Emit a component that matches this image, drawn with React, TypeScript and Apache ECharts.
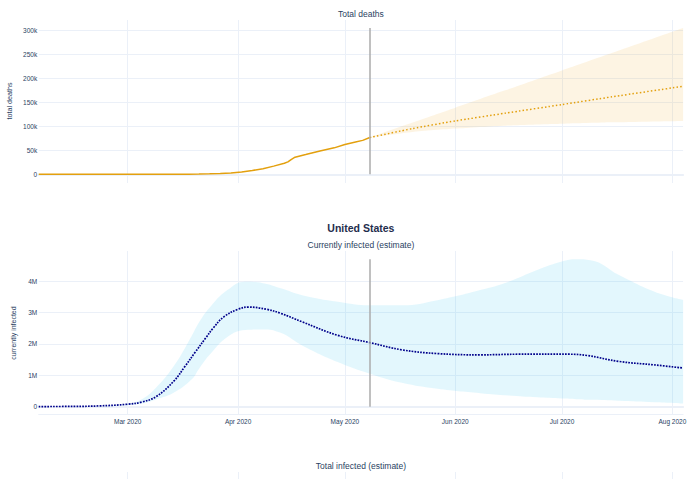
import React, { useEffect, useRef } from 'react';
import * as echarts from 'echarts';

// ---------- data ----------
const X_START = '2020-02-05';
const X_END = '2020-08-04';
const X_TICK_DATES = ['2020-03-01', '2020-04-01', '2020-05-01', '2020-06-01', '2020-07-01', '2020-08-01'];
const X_TICK_LABELS = ['Mar 2020', 'Apr 2020', 'May 2020', 'Jun 2020', 'Jul 2020', 'Aug 2020'];
const CUTOFF_DATE = '2020-05-08';

const DEATH_DATES = ['2020-02-05', '2020-02-29', '2020-03-10', '2020-03-15', '2020-03-18', '2020-03-21', '2020-03-24', '2020-03-27', '2020-03-30', '2020-04-02', '2020-04-05', '2020-04-08', '2020-04-11', '2020-04-14', '2020-04-15', '2020-04-16', '2020-04-17', '2020-04-20', '2020-04-22', '2020-04-24', '2020-04-28', '2020-05-01', '2020-05-04', '2020-05-06', '2020-05-08'];
const DEATH_VALUES = [0, 1, 30, 70, 150, 400, 900, 1700, 2600, 5000, 8000, 11500, 17000, 23000, 25800, 31000, 35500, 41000, 45000, 48600, 55000, 61800, 67000, 70500, 76500];

const PROJ_DATES = ['2020-05-08', '2020-05-20', '2020-06-01', '2020-06-15', '2020-07-01', '2020-07-15', '2020-08-04'];
const PROJ_MEAN = [76500, 95000, 111000, 127000, 145000, 161000, 183000];
const PROJ_LOW = [76500, 88000, 95000, 101000, 105000, 108000, 111000];
const PROJ_HIGH = [76500, 107500, 138500, 174500, 216000, 252000, 304000];

const INF_DATES = ['2020-02-05', '2020-02-15', '2020-02-22', '2020-03-01', '2020-03-05', '2020-03-09', '2020-03-14', '2020-03-17', '2020-03-20', '2020-03-23', '2020-03-25', '2020-03-28', '2020-04-01', '2020-04-04', '2020-04-09', '2020-04-13', '2020-04-19', '2020-04-29', '2020-05-08', '2020-05-17', '2020-05-27', '2020-06-08', '2020-06-19', '2020-07-03', '2020-07-08', '2020-07-17', '2020-07-27', '2020-08-04'];
const INF_VALUES = [5000, 10000, 25000, 80000, 150000, 320000, 820000, 1270000, 1740000, 2200000, 2500000, 2860000, 3100000, 3170000, 3100000, 2970000, 2700000, 2270000, 2040000, 1810000, 1690000, 1650000, 1670000, 1670000, 1630000, 1440000, 1330000, 1230000];

const INF_BAND_DATES = ['2020-02-05', '2020-02-22', '2020-03-01', '2020-03-05', '2020-03-09', '2020-03-14', '2020-03-19', '2020-03-21', '2020-03-24', '2020-03-29', '2020-04-03', '2020-04-08', '2020-04-13', '2020-04-19', '2020-04-29', '2020-05-08', '2020-05-17', '2020-05-27', '2020-06-08', '2020-06-16', '2020-06-24', '2020-07-01', '2020-07-05', '2020-07-09', '2020-07-17', '2020-07-27', '2020-08-04'];
const INF_LOW = [5000, 15000, 50000, 100000, 230000, 450000, 870000, 1200000, 1650000, 2220000, 2440000, 2460000, 2350000, 1950000, 1420000, 1050000, 760000, 570000, 430000, 360000, 300000, 260000, 240000, 220000, 190000, 140000, 100000];
const INF_HIGH = [5000, 30000, 100000, 240000, 610000, 1300000, 2260000, 2680000, 3150000, 3710000, 3980000, 3930000, 3770000, 3550000, 3340000, 3230000, 3230000, 3390000, 3710000, 3980000, 4350000, 4620000, 4690000, 4660000, 4190000, 3660000, 3400000];

const DEATH_TICK_MAX = 300000;
const DEATH_TICK_STEP = 50000;
const INF_TICK_MAX = 4000000;
const INF_TICK_STEP = 1000000;

// ---------- layout ----------
const W = 690;
const H = 479;
const PLOT_LEFT = 38.7;
const PLOT_RIGHT = 6.9;
const TXT = '#2a3f5f';
const GRID_C = '#ebf0f8';
const FONT = "'Liberation Sans', Arial, sans-serif";

const T_TOP = 20, T_BOT = 183, T_ZERO = 174.3, T_MAXPX = 30;
const M_TOP = 251, M_BOT = 414, M_ZERO = 406.7, M_MAXPX = 281;

const ts = (s: string) => {
  const [y, m, d] = s.split('-').map(Number);
  return Date.UTC(y, m - 1, d);
};

function rangeFor(top: number, bot: number, zero: number, maxPx: number, tickMax: number) {
  const ppu = (zero - maxPx) / tickMax;
  return { min: -(bot - zero) / ppu, max: (zero - top) / ppu };
}

export default function App() {
  const ref = useRef<HTMLDivElement>(null);
  useEffect(() => {
    if (!ref.current) return;
    const chart = echarts.init(ref.current, undefined, { renderer: 'svg' });
    const xMin = ts(X_START);
    const xMax = ts(X_END);
    const tickTs = X_TICK_DATES.map(ts);
    const monthLabel = (v: number) => {
      const i = tickTs.indexOf(v);
      return i >= 0 ? X_TICK_LABELS[i] : '';
    };
    const topR = rangeFor(T_TOP, T_BOT, T_ZERO, T_MAXPX, DEATH_TICK_MAX);
    const midR = rangeFor(M_TOP, M_BOT, M_ZERO, M_MAXPX, INF_TICK_MAX);

    const decoX = (gridIndex: number, extra: any) => ({
      type: 'value',
      gridIndex,
      min: xMin,
      max: xMax,
      axisLine: { show: false },
      axisTick: { show: false, customValues: tickTs },
      axisLabel: { show: false, customValues: tickTs },
      splitLine: { show: false },
      ...extra,
    });
    const dataX = (gridIndex: number) => ({
      type: 'time', gridIndex, min: xMin, max: xMax, show: false, splitLine: { show: false },
    });

    const hiddenY = (gridIndex: number, r: { min: number; max: number }) => ({
      type: 'value', gridIndex, min: r.min, max: r.max, show: false, splitLine: { show: false },
    });

    const tickY = (gridIndex: number, max: number, step: number, fmt: (v: number) => string) => ({
      type: 'value',
      gridIndex,
      min: 0,
      max,
      interval: step,
      axisLine: { show: false },
      axisTick: { show: false },
      axisLabel: { color: TXT, fontSize: 6.5, fontFamily: FONT, margin: 1.5, formatter: fmt },
      splitLine: { show: true, lineStyle: { color: GRID_C, width: 1 } },
    });

    const g = (top: number, height: number) => ({ left: PLOT_LEFT, right: PLOT_RIGHT, top, height });
    const grids = [
      g(T_TOP, T_BOT - T_TOP),
      g(T_MAXPX, T_ZERO - T_MAXPX),
      g(M_TOP, M_BOT - M_TOP),
      g(M_MAXPX, M_ZERO - M_MAXPX),
      g(472, 60),
      g(T_TOP, T_BOT - T_TOP),
      g(M_TOP, M_BOT - M_TOP),
    ];
    const vGrid = { show: true, lineStyle: { color: GRID_C, width: 1 } };

    const xAxes = [
      dataX(0),
      decoX(1, { axisLine: { show: true, lineStyle: { color: GRID_C, width: 2 } } }),
      dataX(2),
      decoX(3, { axisLine: { show: true, lineStyle: { color: GRID_C, width: 2 } } }),
      decoX(4, { splitLine: vGrid }),
      decoX(5, { splitLine: vGrid }),
      decoX(6, {
        axisLine: { show: true, lineStyle: { color: GRID_C, width: 1 } },
        axisLabel: { show: true, customValues: tickTs, color: TXT, fontSize: 6.5, fontFamily: FONT, margin: 3.5, formatter: monthLabel },
        splitLine: vGrid,
      }),
    ];

    const yAxes = [
      hiddenY(0, topR),
      tickY(1, DEATH_TICK_MAX, DEATH_TICK_STEP, (v) => (v === 0 ? '0' : v / 1000 + 'k')),
      hiddenY(2, midR),
      tickY(3, INF_TICK_MAX, INF_TICK_STEP, (v) => (v === 0 ? '0' : v / 1e6 + 'M')),
      hiddenY(4, { min: 0, max: 1 }),
      hiddenY(5, { min: 0, max: 1 }),
      hiddenY(6, { min: 0, max: 1 }),
    ];

    const pairs = (dates: string[], vals: number[]) => dates.map((d, i) => [ts(d), vals[i]]);
    const diff = (dates: string[], lo: number[], hi: number[]) => dates.map((d, i) => [ts(d), hi[i] - lo[i]]);

    const bandSeries = (axis: number, stack: string, dates: string[], lo: number[], hi: number[], color: string, smooth: number) => [
      {
        type: 'line', xAxisIndex: axis, yAxisIndex: axis, stack, data: pairs(dates, lo),
        showSymbol: false, symbol: 'none', lineStyle: { opacity: 0, width: 0 }, smooth, silent: true, z: 1,
      },
      {
        type: 'line', xAxisIndex: axis, yAxisIndex: axis, stack, data: diff(dates, lo, hi),
        showSymbol: false, symbol: 'none', lineStyle: { opacity: 0, width: 0 }, smooth, silent: true, z: 1,
        areaStyle: { color, opacity: 1 },
      },
    ];

    const vline = (maxVal: number) => ({
      silent: true,
      symbol: 'none',
      label: { show: false },
      lineStyle: { color: '#ababab', width: 1.5, type: 'solid' },
      data: [[{ coord: [ts(CUTOFF_DATE), 0] }, { coord: [ts(CUTOFF_DATE), maxVal] }]],
    });

    const series: any[] = [
      ...bandSeries(0, 'deathBand', PROJ_DATES, PROJ_LOW, PROJ_HIGH, 'rgba(240,170,40,0.13)', 0.2),
      {
        type: 'line', xAxisIndex: 0, yAxisIndex: 0, data: pairs(DEATH_DATES, DEATH_VALUES),
        showSymbol: false, symbol: 'none', lineStyle: { color: '#e3a00e', width: 1.5 }, z: 3,
        markLine: vline(Math.max(...PROJ_HIGH)),
      },
      {
        type: 'line', xAxisIndex: 0, yAxisIndex: 0, data: pairs(PROJ_DATES, PROJ_MEAN), smooth: 0.2,
        showSymbol: false, symbol: 'none', lineStyle: { color: '#e3a00e', width: 1.5, type: [1.5, 2.2] }, z: 3,
      },
      ...bandSeries(2, 'infBand', INF_BAND_DATES, INF_LOW, INF_HIGH, 'rgba(55,200,242,0.14)', 0.45),
      {
        type: 'line', xAxisIndex: 2, yAxisIndex: 2, data: pairs(INF_DATES, INF_VALUES), smooth: 0.4,
        showSymbol: false, symbol: 'none', lineStyle: { color: '#00008b', width: 1.7, type: [1.7, 1.2] }, z: 3,
        markLine: vline(Math.max(...INF_HIGH)),
      },
    ];

    const cx = PLOT_LEFT + (W - PLOT_LEFT - PLOT_RIGHT) / 2;
    const txt = (text: string, x: number, y: number, size: number, extra: any = {}) => ({
      type: 'text', x, y, silent: true,
      style: { text, fill: TXT, fontSize: size, fontFamily: FONT, align: 'center', verticalAlign: 'middle', ...extra },
    });

    chart.setOption({
      animation: false,
      useUTC: true,
      backgroundColor: '#ffffff',
      grid: grids,
      xAxis: xAxes,
      yAxis: yAxes,
      series,
      graphic: [
        txt('Total deaths', cx, 14, 8.5),
        txt('United States', cx, 227.5, 10.5, { fontWeight: 'bold', fill: '#1f2d4d' }),
        txt('Currently infected (estimate)', cx, 244.7, 8.5),
        txt('Total infected (estimate)', cx, 466, 8.5),
        { ...txt('total deaths', 9, 101, 7.2), rotation: Math.PI / 2 },
        { ...txt('currently infected', 13, 333, 7), rotation: Math.PI / 2 },
      ],
    });
    return () => chart.dispose();
  }, []);
  return <div ref={ref} style={{ position: 'fixed', left: 0, top: 0, width: W, height: H }} />;
}
